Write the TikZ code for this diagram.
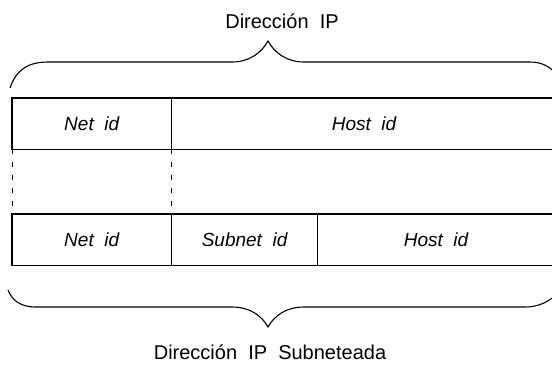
\documentclass[tikz,border=0pt]{standalone}
\usepackage{fontspec}
\setmainfont{Liberation Sans}
\begin{document}
\begin{tikzpicture}[x=1pt,y=-1pt,
  field/.style={rectangle, inner sep=0pt, anchor=north west, minimum height=51pt, font=\fontsize{19}{19}\selectfont\itshape},
  frame/.style={draw=black, line width=1.2pt},
  thindiv/.style={draw=black, line width=0.6pt},
  bracepath/.style={draw=black, line width=1.1pt},
  guide/.style={draw=black, line width=1pt, dash pattern=on 5pt off 8pt},
  caption/.style={font=\fontsize{20}{20}\selectfont, inner sep=0pt}]
\useasboundingbox (0,0) rectangle (552,373);
\clip (0,0) rectangle (552,373);
% top fields
\node[field, minimum width=159pt] (tnet) at (12,98) {Net\ \ id};
\node[field, minimum width=392pt] (thost) at (tnet.north east) {};
\node[font=\fontsize{19}{19}\selectfont\itshape] (thostlbl) at (364,124) {Host\ \ id};
\draw[frame] (tnet.north west) rectangle (thost.south east);
\draw[frame] (tnet.north east) -- (tnet.south east);
% bottom fields
\node[field, minimum width=159pt] (bnet) at (12,214) {Net\ \ id};
\node[field, minimum width=146pt] (bsub) at (bnet.north east) {Subnet\ \ id};
\node[field, minimum width=246pt] (bhost) at (bsub.north east) {};
\node[font=\fontsize{19}{19}\selectfont\itshape] (bhostlbl) at (436,240) {Host\ \ id};
\draw[frame] (bnet.north west) rectangle (bhost.south east);
\draw[thindiv] (bnet.north east) -- (bnet.south east);
\draw[frame] (bsub.north east) -- (bsub.south east);
% dashed guides
\draw[guide] (tnet.south west) -- (bnet.north west);
\draw[guide] (tnet.south east) -- (bnet.north east);
% top brace
\draw[bracepath] (10,88) .. controls (16,70) and (28,62) .. (48,62) -- (232,62)
  .. controls (250,62) and (262,52) .. (268,41)
  .. controls (274,52) and (286,62) .. (304,62) -- (530,62)
  .. controls (541,62) and (550,66) .. (557,75);
% bottom brace
\draw[bracepath] (8,290) .. controls (12,300) and (20,307) .. (36,307) -- (232,307)
  .. controls (250,307) and (262,316) .. (268,327)
  .. controls (274,316) and (286,307) .. (304,307) -- (525,307)
  .. controls (540,307) and (549,301) .. (557,294);
\node[caption] (ttl) at (282,21) {Dirección\ \ IP};
\node[caption] (btl) at (270,352) {Dirección\ \ IP\ \ Subneteada};
\end{tikzpicture}
\end{document}
